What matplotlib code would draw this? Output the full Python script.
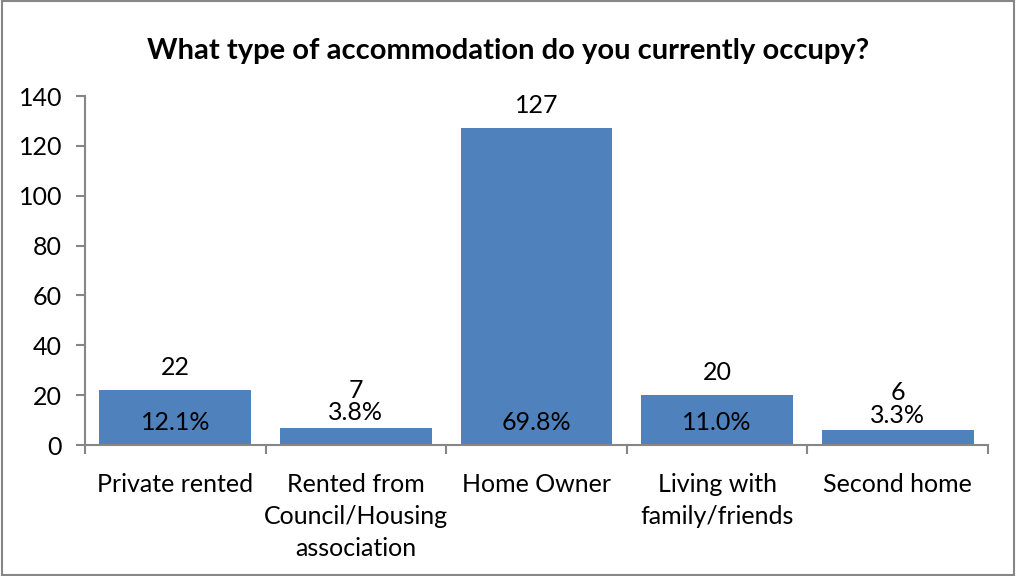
import numpy as np
import matplotlib.pyplot as plt
from matplotlib.patches import Rectangle

categories = ['Private rented', 'Rented from\nCouncil/Housing\nassociation', 'Home Owner',
              'Living with\nfamily/friends', 'Second home']
counts = [22, 7, 127, 20, 6]
percents = ['12.1%', '3.8%', '69.8%', '11.0%', '3.3%']

plt.rcParams['font.family'] = ['Lato', 'DejaVu Sans']

fig = plt.figure(figsize=(10.16, 5.76), dpi=100)
ax = fig.add_axes([0.0837, 0.2274, 0.8887, 0.6059])

x = np.arange(len(categories))
ax.bar(x, counts, width=0.84, color='#4F81BD')

for xi, c, p in zip(x, counts, percents):
    if c >= 15:
        ax.text(xi, 9.2, p, ha='center', va='center', fontsize=18)
        ax.text(xi, c + 9.2, str(c), ha='center', va='center', fontsize=18)
    else:
        ax.text(xi, c + 6.0, p, ha='center', va='center', fontsize=18)
        ax.text(xi, c + 15.0, str(c), ha='center', va='center', fontsize=18)

ax.set_xlim(-0.5, len(categories) - 0.5)
ax.set_ylim(0, 140)
ax.set_yticks(np.arange(0, 141, 20))
ax.set_xticks(np.arange(-0.5, len(categories), 1))
ax.set_xticklabels([])
ax.set_xticks(x, minor=True)
ax.set_xticklabels(categories, minor=True, fontsize=18, linespacing=1.48, va='top')
ax.tick_params(axis='x', which='minor', length=0, pad=20)
ax.tick_params(axis='x', which='major', length=6.5, width=1.5, color='#868686')
ax.tick_params(axis='y', length=6.5, width=1.5, color='#868686', labelsize=18, pad=10)

for s in ['top', 'right']:
    ax.spines[s].set_visible(False)
for s in ['left', 'bottom']:
    ax.spines[s].set_color('#868686')
    ax.spines[s].set_linewidth(1.5)

fig.text(0.5, 0.912, 'What type of accommodation do you currently occupy?',
         ha='center', va='center', fontsize=21, fontweight='bold')

fig.patches.append(Rectangle((0.002, 0.002), 0.996, 0.996, transform=fig.transFigure,
                             fill=False, edgecolor='#868686', linewidth=1.5))

fig.savefig('out.png', dpi=100)
